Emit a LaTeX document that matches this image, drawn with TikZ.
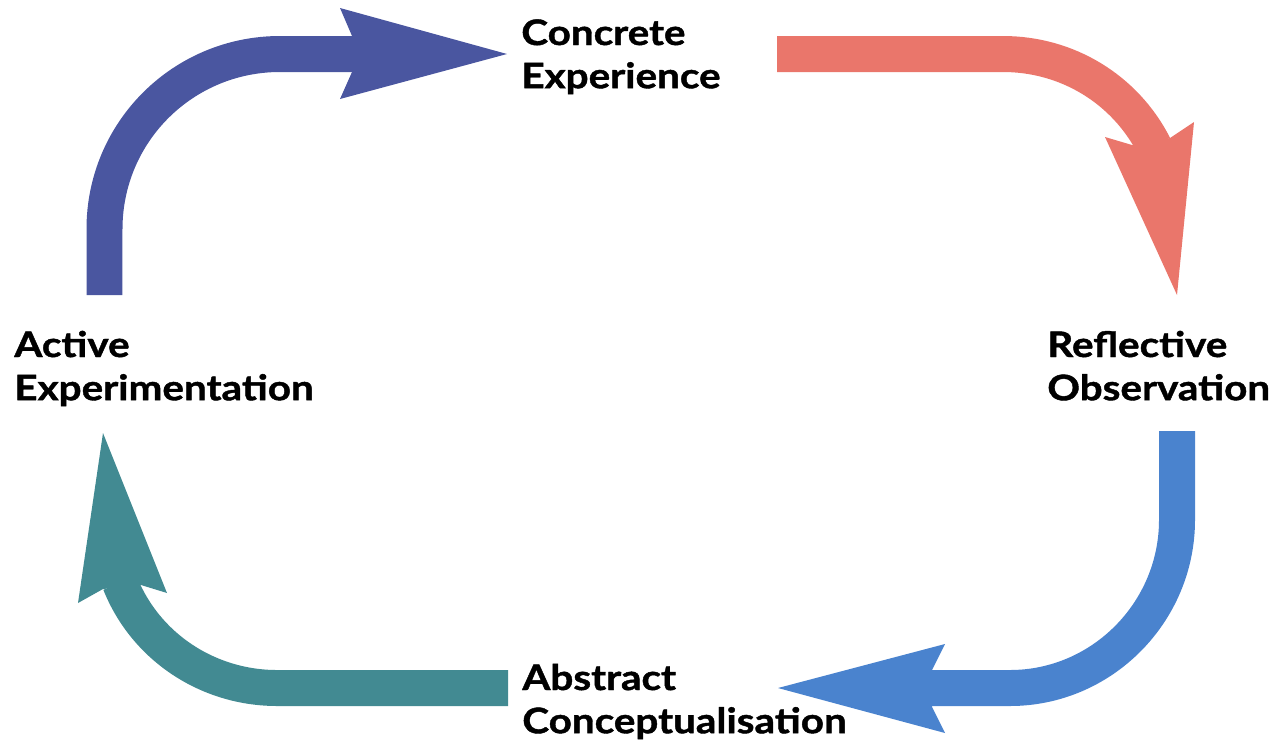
\documentclass[tikz,border=0pt]{standalone}
\usepackage{fontspec}
\setmainfont{Lato}[BoldFeatures={FakeStretch=1.15,FakeBold=1.2}]
\definecolor{cA}{RGB}{74,86,160}
\definecolor{cB}{RGB}{234,118,107}
\definecolor{cC}{RGB}{74,131,206}
\definecolor{cD}{RGB}{66,138,146}
\newcommand{\twoline}[2]{\begin{tabular}[t]{@{}l@{}}#1\\#2\end{tabular}}
\begin{document}
\begin{tikzpicture}[x=0.02cm,y=-0.02cm,
  shaft/.style={line width=0.72cm},
  lbl/.style={anchor=base west,inner sep=0pt,font=\fontsize{20}{24.6}\selectfont\bfseries}]
\useasboundingbox (0,0) rectangle (1274,748);
% labels
\node[lbl] (ce) at (521,45) {\twoline{Concrete}{Experience}};
\node[lbl] (ro) at (1047,357) {\twoline{Reflective}{Observation}};
\node[lbl] (ac) at (522,690) {\twoline{Abstract}{Conceptualisation}};
\node[lbl] (ae) at (14,357) {\twoline{Active}{Experimentation}};
% top-left arrow (Active -> Concrete)
\coordinate (a0) at (104.5,295);
\coordinate (a1) at (104.5,229);
\coordinate (a2) at (280,54);
\coordinate (a3) at (352,54);
\draw[shaft,cA] (a0) -- (a1) .. controls (104.5,132) and (183,54) .. (a2) -- (a3);
\fill[cA] (352,36) -- (340,8) -- (507,54) -- (340,99) -- (352,72) -- cycle;
% top-right arrow (Concrete -> Reflective)
\coordinate (b0) at (777,54);
\coordinate (b1) at (1003,54);
\coordinate (b2) at (1154,146);
\draw[shaft,cB] (b0) -- (b1) .. controls (1067,54) and (1125,89) .. (b2);
\fill[cB] (1132,145) -- (1105,137) -- (1177,295) -- (1194,122) -- (1170,138) -- cycle;
% bottom-right arrow (Reflective -> Abstract)
\coordinate (c0) at (1177,431);
\coordinate (c1) at (1177,520);
\coordinate (c2) at (1010,688);
\coordinate (c3) at (932,688);
\draw[shaft,cC] (c0) -- (c1) .. controls (1177,612) and (1102,688) .. (c2) -- (c3);
\fill[cC] (932,670) -- (945,644) -- (778,688) -- (945,733) -- (932,707) -- cycle;
% bottom-left arrow (Abstract -> Active)
\coordinate (d0) at (508,688);
\coordinate (d1) at (277,688);
\coordinate (d2) at (120,583);
\draw[shaft,cD] (d0) -- (d1) .. controls (208,688) and (145.5,647) .. (d2);
\fill[cD] (103,589) -- (78,603) -- (103,433) -- (167,593) -- (141,585) -- cycle;
\end{tikzpicture}
\end{document}
